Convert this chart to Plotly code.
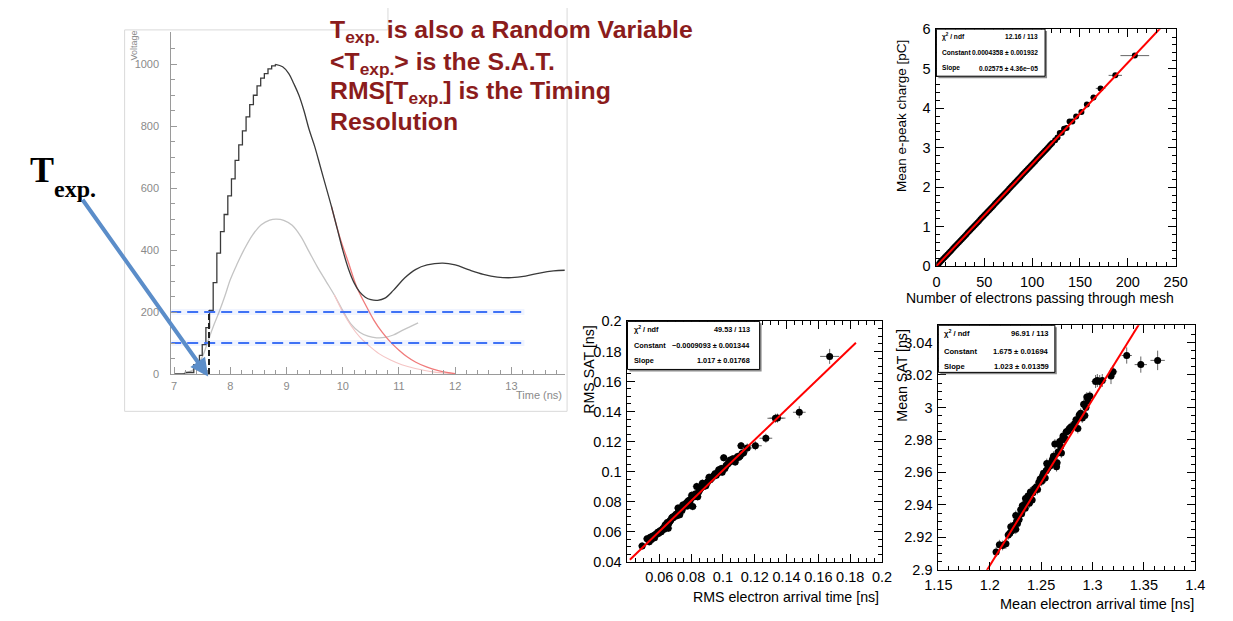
import plotly.graph_objects as go

W, H = 1233, 621


def fx(p):
    return p / W


def fy(p):
    return 1 - p / H


# ---------------- Waveform panel (left) ----------------
black_rise_t = [7.00, 7.20, 7.35, 7.45, 7.50, 7.565, 7.63, 7.695, 7.76, 7.825, 7.89, 7.955,
                8.02, 8.085, 8.15, 8.215, 8.28, 8.345, 8.41, 8.475, 8.54, 8.605, 8.67, 8.735, 8.80]
black_rise_v = [0, 5, 30, 60, 95, 150, 205, 295, 390, 460, 515, 575,
                630, 690, 740, 785, 830, 870, 900, 930, 955, 970, 985, 995, 1000]
black_fall_t = [8.80, 8.93, 9.04, 9.13, 9.22, 9.31, 9.40, 9.50, 9.60, 9.70, 9.80, 9.90, 10.00,
                10.10, 10.20, 10.30, 10.40, 10.50, 10.62, 10.75, 10.90, 11.10, 11.30, 11.50,
                11.78, 12.00, 12.25, 12.50, 12.75, 13.00, 13.25, 13.50, 13.75, 13.95]
black_fall_v = [1000, 992, 970, 937, 900, 850, 790, 735, 670, 605, 540, 470, 400,
                340, 295, 265, 248, 240, 238, 245, 270, 310, 338, 352,
                358, 352, 336, 322, 313, 311, 316, 326, 333, 335]
gray_t = [7.15, 7.35, 7.50, 7.60, 7.70, 7.80, 7.90, 8.00, 8.12, 8.24, 8.40, 8.55, 8.70, 8.82,
          8.95, 9.10, 9.25, 9.40, 9.55, 9.70, 9.85, 10.00, 10.15, 10.30, 10.45, 10.60, 10.75,
          10.90, 11.05, 11.20, 11.34]
gray_v = [0, 15, 55, 105, 155, 200, 250, 305, 355, 400, 450, 482, 497, 500,
          496, 480, 445, 395, 345, 300, 255, 205, 160, 135, 122, 117, 118,
          126, 140, 153, 165]
red_t = [9.80, 9.95, 10.10, 10.25, 10.40, 10.55, 10.70, 10.85, 11.00, 11.15, 11.30, 11.50, 11.70, 11.85, 12.00]
red_v = [540, 440, 360, 280, 225, 175, 135, 103, 77, 55, 38, 22, 11, 5, 1]
pink_t = [9.85, 10.00, 10.15, 10.30, 10.47, 10.65, 10.85, 11.05, 11.29, 11.60, 11.92]
pink_v = [255, 200, 155, 120, 91, 65, 45, 30, 18, 7, 2]
thr_levels = [200, 100]
thr_t = [6.93, 13.23]
t_exp = 7.62
t_exp_v = 205
wave_xticks = [7, 8, 9, 10, 11, 12, 13]
wave_yticks = [0, 200, 400, 600, 800, 1000]

# ---------------- Top right: charge vs electrons ----------------
ne_x = [1, 2.5, 4, 5.5, 7, 8.5, 10, 11.5, 13, 14.5, 16, 17.5, 19, 20.5, 22, 23.5, 25, 26.5, 28, 29.5,
        31, 32.5, 34, 35.5, 37, 38.5, 40, 41.5, 43, 44.5, 46, 47.5, 49, 50.5, 52, 53.5, 55, 56.5,
        58, 59.5, 61, 62.5, 64, 65.5, 67, 68.5, 70, 71.5, 73, 74.5, 76, 77.5, 79, 80.5, 82, 83.5,
        85, 86.5, 88, 89.5, 91, 92.5, 94, 95.5, 97, 98.5, 100, 101.5, 103, 104.5, 106, 107.5, 109,
        110.5, 112, 113.5, 115, 116.5, 118, 119.5, 121]
q_y = [0.026, 0.064, 0.103, 0.142, 0.180, 0.219, 0.258, 0.296, 0.335, 0.373, 0.412, 0.451, 0.489,
       0.528, 0.567, 0.605, 0.644, 0.682, 0.721, 0.760, 0.798, 0.837, 0.876, 0.914, 0.953, 0.991,
       1.030, 1.069, 1.107, 1.146, 1.185, 1.223, 1.262, 1.300, 1.339, 1.378, 1.416, 1.455, 1.494,
       1.532, 1.571, 1.609, 1.648, 1.687, 1.725, 1.764, 1.803, 1.841, 1.880, 1.918, 1.957, 1.996,
       2.034, 2.073, 2.112, 2.150, 2.189, 2.227, 2.266, 2.305, 2.343, 2.382, 2.421, 2.459, 2.498,
       2.536, 2.575, 2.614, 2.652, 2.691, 2.730, 2.768, 2.807, 2.845, 2.884, 2.923, 2.961, 3.000,
       3.039, 3.077, 3.116]
ne_tail_x = [124, 126.5, 128.9, 131, 133.4, 136, 139.1, 142, 146, 151.5, 157.2, 164.1, 171.5, 186.9, 207.3]
q_tail_y = [3.19, 3.26, 3.37, 3.38, 3.48, 3.50, 3.66, 3.66, 3.79, 3.90, 4.09, 4.27, 4.50, 4.83, 5.33]
ne_tail_ex = [1, 1, 1.2, 1.2, 1.3, 1.4, 1.5, 1.6, 1.8, 2, 2.5, 3, 5, 7, 15]
q_tail_ey = [0.02, 0.02, 0.02, 0.02, 0.02, 0.02, 0.02, 0.02, 0.02, 0.02, 0.03, 0.03, 0.03, 0.03, 0.04]
fit1 = dict(const=0.0004358, slope=0.02575, xmin=0.0, xmax=250.0)
q_xticks = [0, 50, 100, 150, 200, 250]
q_yticks = [0, 1, 2, 3, 4, 5, 6]

# ---------------- Bottom middle: RMS SAT vs RMS arrival ----------------
rms_x = [0.0492, 0.0523, 0.0537, 0.0543, 0.0550, 0.0557, 0.0564, 0.0570, 0.0577, 0.0585, 0.0590,
         0.0596, 0.0605, 0.0612, 0.0618, 0.0623, 0.0630, 0.0636, 0.0640, 0.0646, 0.0650, 0.0656,
         0.0660, 0.0666, 0.0672, 0.0678, 0.0684, 0.0687, 0.0692, 0.0700, 0.0705, 0.0710, 0.0718,
         0.0720, 0.0728, 0.0730, 0.0736, 0.0742, 0.0748, 0.0752, 0.0758, 0.0765, 0.0770, 0.0775,
         0.0779, 0.0785, 0.0790, 0.0797, 0.0804, 0.0810, 0.0815, 0.0820, 0.0826, 0.0835, 0.0841,
         0.0848, 0.0855, 0.0862, 0.0871, 0.0878, 0.0885, 0.0892, 0.0900, 0.0906, 0.0913, 0.0920,
         0.0928, 0.0935, 0.0942, 0.0950, 0.0958, 0.0966, 0.0974, 0.0982, 0.0990, 0.0995, 0.1005,
         0.1012, 0.1020, 0.1030, 0.1038, 0.1046, 0.1055, 0.1063, 0.1070, 0.1077, 0.1085, 0.1092,
         0.1100, 0.1108, 0.1114, 0.1120, 0.1130]
rms_y = [0.0505, 0.0552, 0.0532, 0.0562, 0.0548, 0.0570, 0.0573, 0.0560, 0.0582, 0.0584, 0.0596,
         0.0590, 0.0605, 0.0600, 0.0612, 0.0620, 0.0616, 0.0640, 0.0648, 0.0637, 0.0660, 0.0623,
         0.0655, 0.0670, 0.0675, 0.0690, 0.0698, 0.0692, 0.0700, 0.0708, 0.0715, 0.0705, 0.0757,
         0.0730, 0.0713, 0.0745, 0.0750, 0.0740, 0.0778, 0.0765, 0.0775, 0.0782, 0.0790, 0.0770,
         0.0800, 0.0808, 0.0795, 0.0815, 0.0843, 0.0767, 0.0830, 0.0840, 0.0850, 0.0901, 0.0832,
         0.0865, 0.0880, 0.0890, 0.0923, 0.0900, 0.0915, 0.0905, 0.0925, 0.0935, 0.0962, 0.0945,
         0.0955, 0.0965, 0.0970, 0.0985, 0.0975, 0.0990, 0.1012, 0.1000, 0.1020, 0.0995, 0.1092,
         0.1020, 0.1040, 0.1050, 0.1060, 0.1077, 0.1070, 0.1085, 0.1075, 0.1063, 0.1090, 0.1100,
         0.1095, 0.1103, 0.1172, 0.1120, 0.1125]
rms_tail_x = [0.1153, 0.1204, 0.1270, 0.1330, 0.1343, 0.1480, 0.1671]
rms_tail_y = [0.1157, 0.1172, 0.1222, 0.1355, 0.1356, 0.1395, 0.1767]
rms_tail_ex = [0.003, 0.004, 0.004, 0.005, 0.005, 0.004, 0.006]
rms_tail_ey = [0.003, 0.003, 0.003, 0.003, 0.003, 0.004, 0.005]
fit2 = dict(const=-0.0009093, slope=1.017, xmin=0.0415, xmax=0.1836)
rms_xticks = [0.06, 0.08, 0.1, 0.12, 0.14, 0.16, 0.18, 0.2]
rms_xlabels = ['0.06', '0.08', '0.1', '0.12', '0.14', '0.16', '0.18', '0.2']
rms_yticks = [0.04, 0.06, 0.08, 0.1, 0.12, 0.14, 0.16, 0.18, 0.2]
rms_ylabels = ['0.04', '0.06', '0.08', '0.1', '0.12', '0.14', '0.16', '0.18', '0.2']

# ---------------- Bottom right: Mean SAT vs mean arrival ----------------
mean_x = [1.2062, 1.2094, 1.2125, 1.2157, 1.2180, 1.2195, 1.2205, 1.2215, 1.2237, 1.2253, 1.2262,
          1.2270, 1.2285, 1.2253, 1.2301, 1.2310, 1.2317, 1.2333, 1.2345, 1.2348, 1.2360, 1.2372,
          1.2385, 1.2396, 1.2412, 1.2420, 1.2435, 1.2453, 1.2465, 1.2478, 1.2491, 1.2505, 1.2515,
          1.2523, 1.2539, 1.2550, 1.2555, 1.2565, 1.2586, 1.2598, 1.2610, 1.2620, 1.2634, 1.2650,
          1.2655, 1.2665, 1.2681, 1.2690, 1.2697, 1.2705, 1.2714, 1.2730, 1.2745, 1.2761, 1.2775,
          1.2790, 1.2809, 1.2825, 1.2840, 1.2857, 1.2872, 1.2885, 1.2900, 1.2914, 1.2925, 1.2936,
          1.2945, 1.2955, 1.2974]
mean_y = [2.9110, 2.9155, 2.9150, 2.9160, 2.9215, 2.9225, 2.9265, 2.9240, 2.9275, 2.9250, 2.9300,
          2.9285, 2.9310, 2.9335, 2.9370, 2.9345, 2.9395, 2.9400, 2.9380, 2.9440, 2.9420, 2.9455,
          2.9410, 2.9480, 2.9430, 2.9475, 2.9500, 2.9510, 2.9495, 2.9540, 2.9560, 2.9545, 2.9580,
          2.9595, 2.9565, 2.9610, 2.9655, 2.9625, 2.9640, 2.9660, 2.9680, 2.9700, 2.9775, 2.9635,
          2.9660, 2.9725, 2.9790, 2.9760, 2.9720, 2.9800, 2.9825, 2.9810, 2.9850, 2.9855, 2.9870,
          2.9880, 2.9885, 2.9900, 2.9925, 2.9870, 2.9955, 2.9965, 2.9935, 3.0020, 2.9950, 3.0000,
          3.0065, 3.0040, 3.0070]
mean_tail_x = [1.3030, 1.3047, 1.3070, 1.3095, 1.3180, 1.3200, 1.3333, 1.3470, 1.3634]
mean_tail_y = [3.0160, 3.0166, 3.0160, 3.0166, 3.0194, 3.0220, 3.0320, 3.0264, 3.0290]
mean_tail_ex = [0.004, 0.004, 0.004, 0.004, 0.004, 0.004, 0.005, 0.006, 0.007]
mean_tail_ey = [0.004, 0.004, 0.004, 0.004, 0.005, 0.004, 0.005, 0.005, 0.006]
fit3 = dict(const=1.675, slope=1.023, xmin=1.19, xmax=1.36)
mean_xticks = [1.15, 1.2, 1.25, 1.3, 1.35, 1.4]
mean_xlabels = ['1.15', '1.2', '1.25', '1.3', '1.35', '1.4']
mean_yticks = [2.9, 2.92, 2.94, 2.96, 2.98, 3.0, 3.02, 3.04]
mean_ylabels = ['2.9', '2.92', '2.94', '2.96', '2.98', '3', '3.02', '3.04']

stats = [
    dict(box=(942.3, 21.7, 1053.3, 70.0), left=946.5, right=1047.3, rows=(29.3, 46.0, 61.7),
         vals=['12.16 / 113', '0.0004358 ± 0.001932', '0.02575 ± 4.36e−05'], size=6.6),
    dict(box=(626.7, 321.7, 761.7, 371.0), left=632.5, right=752.7, rows=(330.0, 346.0, 362.3),
         vals=['49.53 / 113', '−0.0009093 ± 0.001344', '1.017 ± 0.01768'], size=7.3),
    dict(box=(944.3, 325.7, 1063.3, 374.0), left=949.0, right=1058.3, rows=(334.0, 352.3, 368.3),
         vals=['96.91 / 113', '1.675 ± 0.01694', '1.023 ± 0.01359'], size=7.6),
]
stat_names = ['χ<sup>2</sup> / ndf', 'Constant', 'Slope']

# ---------------- Figure ----------------
fig = go.Figure()
ROOT_FONT = 'Liberation Sans, Arial, sans-serif'


def line_trace(x, y, color, width, xa, ya, shape='linear', dash=None):
    return go.Scatter(x=x, y=y, mode='lines', xaxis=xa, yaxis=ya, hoverinfo='skip',
                      line=dict(color=color, width=width, shape=shape, dash=dash))


# waveform
fig.add_trace(line_trace(gray_t, gray_v, '#c4c4c4', 1.3, 'x', 'y', 'spline'))
fig.add_trace(line_trace(pink_t, pink_v, '#f5c4c4', 1.1, 'x', 'y', 'spline'))
fig.add_trace(line_trace(red_t, red_v, '#f07a7a', 1.3, 'x', 'y', 'spline'))
fig.add_trace(line_trace(black_rise_t, black_rise_v, '#3a3a3a', 1.3, 'x', 'y', 'hv'))
fig.add_trace(line_trace(black_fall_t, black_fall_v, '#3a3a3a', 1.3, 'x', 'y', 'spline'))
for lvl in thr_levels:
    fig.add_trace(line_trace(thr_t, [lvl, lvl], 'rgba(70,110,255,0.08)', 6, 'x', 'y'))
    fig.add_trace(line_trace(thr_t, [lvl, lvl], '#3f72f5', 2, 'x', 'y', dash='11px,6px'))
fig.add_trace(line_trace([t_exp, t_exp], [0, t_exp_v], '#222222', 2, 'x', 'y', dash='6px,3px'))


def pts(x, y, xa, ya, ex, ey, size=7):
    return go.Scatter(x=x, y=y, mode='markers', xaxis=xa, yaxis=ya, hoverinfo='skip',
                      marker=dict(color='black', size=size, symbol='circle'),
                      error_x=ex, error_y=ey)


def err_const(v):
    return dict(type='constant', value=v, thickness=1, width=0, color='#666')


def err_arr(a):
    return dict(type='data', array=a, thickness=1, width=0, color='#666')


def fit_trace(f, xa, ya):
    xs = [f['xmin'], f['xmax']]
    ys = [f['const'] + f['slope'] * v for v in xs]
    return line_trace(xs, ys, '#ff0000', 2, xa, ya)


# top-right
fig.add_trace(pts(ne_x, q_y, 'x2', 'y2', err_const(0.8), err_const(0.01), 6))
fig.add_trace(pts(ne_tail_x, q_tail_y, 'x2', 'y2', err_arr(ne_tail_ex), err_arr(q_tail_ey), 6))
fig.add_trace(fit_trace(fit1, 'x2', 'y2'))
# middle
fig.add_trace(pts(rms_x, rms_y, 'x3', 'y3', err_const(0.0025), err_const(0.0025)))
fig.add_trace(pts(rms_tail_x, rms_tail_y, 'x3', 'y3', err_arr(rms_tail_ex), err_arr(rms_tail_ey)))
fig.add_trace(fit_trace(fit2, 'x3', 'y3'))
# right
fig.add_trace(pts(mean_x, mean_y, 'x4', 'y4', err_const(0.0035), err_const(0.003)))
fig.add_trace(pts(mean_tail_x, mean_tail_y, 'x4', 'y4', err_arr(mean_tail_ex), err_arr(mean_tail_ey)))
fig.add_trace(fit_trace(fit3, 'x4', 'y4'))


def root_axis(d0, d1, rng, tickvals, ticktext, minor_dtick, anchor):
    return dict(domain=[d0, d1], range=rng, anchor=anchor, showline=True, linecolor='black',
                linewidth=1, mirror='ticks', ticks='inside', ticklen=8, tickwidth=1,
                tickcolor='black', tickmode='array', tickvals=tickvals, ticktext=ticktext,
                minor=dict(ticks='inside', ticklen=4, dtick=minor_dtick, tick0=0, tickcolor='black'),
                showgrid=False, zeroline=False, ticklabelstandoff=2,
                tickfont=dict(family=ROOT_FONT, size=14.5, color='black'))


wave_axis_font = dict(family='Liberation Sans, Arial, sans-serif', size=11, color='#8a8a8a')
fig.update_layout(
    width=W, height=H, margin=dict(l=0, r=0, t=0, b=0, pad=0), autosize=False,
    paper_bgcolor='white', plot_bgcolor='white', showlegend=False,
    xaxis=dict(domain=[fx(160.7), fx(562.7)], range=[6.95, 13.95], anchor='y', showline=True,
               linecolor='#9a9a9a', linewidth=1, ticks='inside', ticklen=7, tickcolor='#9a9a9a',
               tickvals=wave_xticks, minor=dict(ticks='inside', ticklen=4, dtick=0.2, tick0=7,
                                                tickcolor='#9a9a9a'),
               showgrid=False, zeroline=False, tickfont=wave_axis_font, ticklabelstandoff=2),
    yaxis=dict(domain=[fy(375.7), fy(25)], range=[0, 1103], anchor='x', showline=True,
               linecolor='#9a9a9a', linewidth=1, ticks='inside', ticklen=6, tickcolor='#9a9a9a',
               tickvals=wave_yticks, minor=dict(ticks='inside', ticklen=4, dtick=50, tick0=0,
                                                tickcolor='#9a9a9a'),
               showgrid=False, zeroline=False, tickfont=wave_axis_font, ticklabelstandoff=9),
    xaxis2=root_axis(fx(942.3), fx(1186.7), [0, 250], q_xticks, [str(v) for v in q_xticks], 10, 'y2'),
    yaxis2=root_axis(fy(265), fy(21.7), [0, 6], q_yticks, [str(v) for v in q_yticks], 0.2, 'x2'),
    xaxis3=root_axis(fx(626.7), fx(886.7), [0.04, 0.2], rms_xticks, rms_xlabels, 0.005, 'y3'),
    yaxis3=root_axis(fy(568.3), fy(321.7), [0.04, 0.2], rms_yticks, rms_ylabels, 0.005, 'x3'),
    xaxis4=root_axis(fx(944.3), fx(1206.7), [1.15, 1.4], mean_xticks, mean_xlabels, 0.01, 'y4'),
    yaxis4=root_axis(fy(576.7), fy(325.7), [2.9, 3.0506], mean_yticks, mean_ylabels, 0.005, 'x4'),
)

shapes = []
ann = []


def pline(x0, y0, x1, y1, color, width=1, layer='below'):
    shapes.append(dict(type='line', xref='paper', yref='paper', x0=fx(x0), y0=fy(y0),
                       x1=fx(x1), y1=fy(y1), line=dict(color=color, width=width), layer=layer))


# waveform image frame
frame_c = '#d9d9d9'
pline(113, 22.5, 382, 22.5, frame_c)
pline(382, 0, 382, 22.5, frame_c)
pline(113, 22.5, 113, 414, frame_c)
pline(113, 414, 565, 414, frame_c)
pline(565, 0, 565, 414, frame_c)

# stats boxes
for s in stats:
    x0, y0, x1, y1 = s['box']
    shapes.append(dict(type='rect', xref='paper', yref='paper', x0=fx(x0 + 2), y0=fy(y1 + 2),
                       x1=fx(x1 + 2), y1=fy(y0 + 2), fillcolor='#8c8c8c', line=dict(width=0),
                       layer='above'))
    shapes.append(dict(type='rect', xref='paper', yref='paper', x0=fx(x0), y0=fy(y1),
                       x1=fx(x1), y1=fy(y0), fillcolor='white', line=dict(color='black', width=1),
                       layer='above'))
    sf = dict(family=ROOT_FONT, size=s['size'], color='black')
    for name, val, ry in zip(stat_names, s['vals'], s['rows']):
        ann.append(dict(text='<b>' + name + '</b>', x=fx(s['left']), y=fy(ry), xanchor='left',
                        yanchor='middle', font=sf, borderpad=0))
        ann.append(dict(text='<b>' + val + '</b>', x=fx(s['right']), y=fy(ry), xanchor='right',
                        yanchor='middle', font=sf, borderpad=0))

# axis titles (ROOT style, aligned to axis end)
tf = dict(family=ROOT_FONT, size=14.2, color='black')
ann.append(dict(text='Number of electrons passing through mesh', x=fx(1187), y=fy(298),
                xanchor='right', yanchor='middle',
                font=dict(family=ROOT_FONT, size=14, color='black')))
ann.append(dict(text='Mean e-peak charge [pC]', x=fx(906), y=fy(31), xanchor='center',
                yanchor='top', textangle=-90, font=dict(family=ROOT_FONT, size=13.5, color='black')))
ann.append(dict(text='RMS electron arrival time [ns]', x=fx(886), y=fy(605),
                xanchor='right', yanchor='middle', font=tf))
ann.append(dict(text='RMS SAT [ns]', x=fx(588), y=fy(323), xanchor='center',
                yanchor='top', textangle=-90, font=tf))
ann.append(dict(text='Mean electron arrival time [ns]', x=fx(1207), y=fy(611.7),
                xanchor='right', yanchor='middle', font=dict(family=ROOT_FONT, size=14.5, color='black')))
ann.append(dict(text='Mean SAT [ns]', x=fx(906.7), y=fy(327), xanchor='center',
                yanchor='top', textangle=-90, font=tf))

# waveform axis titles
ann.append(dict(text='Voltage', x=fx(122.5), y=fy(38.5), xanchor='center', yanchor='middle',
                textangle=-90, font=dict(family='Liberation Sans, Arial', size=9, color='#8a8a8a')))
ann.append(dict(text='Time (ns)', x=fx(562), y=fy(397.5), xanchor='right', yanchor='middle',
                font=dict(family='Liberation Sans, Arial', size=11, color='#8a8a8a')))

# red slide text
red = '#8b1c1c'
rf = dict(family='Liberation Sans, Arial, sans-serif', size=24.8, color=red)
slide_lines = [
    ('<b>T<sub>exp.</sub> is also a Random Variable</b>', 30),
    ('<b>&lt;T<sub>exp.</sub>&gt; is the S.A.T.</b>', 62),
    ('<b>RMS[T<sub>exp.</sub>] is the Timing</b>', 92.7),
    ('<b>Resolution</b>', 124),
]
for txt, base in slide_lines:
    ann.append(dict(text=txt, x=fx(321), y=fy(base - 0.905 * 24.8 - 1), xanchor='left',
                    yanchor='top', font=rf, align='left'))

# T_exp label
ann.append(dict(text='<b>T</b>', x=fx(14), y=fy(176.7 - 0.891 * 36 - 1), xanchor='left',
                yanchor='top', font=dict(family='Liberation Serif, Times New Roman, serif', size=36,
                                         color='black')))
ann.append(dict(text='<b>exp.</b>', x=fx(39), y=fy(192.7 - 0.891 * 24 - 1), xanchor='left',
                yanchor='top', font=dict(family='Liberation Serif, Times New Roman, serif', size=24,
                                         color='black')))

# blue arrow
ann.append(dict(text='', x=fx(198.3), y=fy(378.3), xref='paper', yref='paper',
                showarrow=True, ax=71.7 - 198.3, ay=200 - 378.3, arrowcolor='#5b8dc9',
                arrowwidth=4, arrowhead=2, arrowsize=0.9, standoff=0))

for a in ann:
    a.setdefault('xref', 'paper')
    a.setdefault('yref', 'paper')
    a.setdefault('showarrow', False)

fig.update_layout(shapes=shapes, annotations=ann)
fig.write_html('out.html', config={'responsive': False, 'displayModeBar': False},
               post_script="document.body.style.margin='0';document.body.style.overflow='hidden';")
